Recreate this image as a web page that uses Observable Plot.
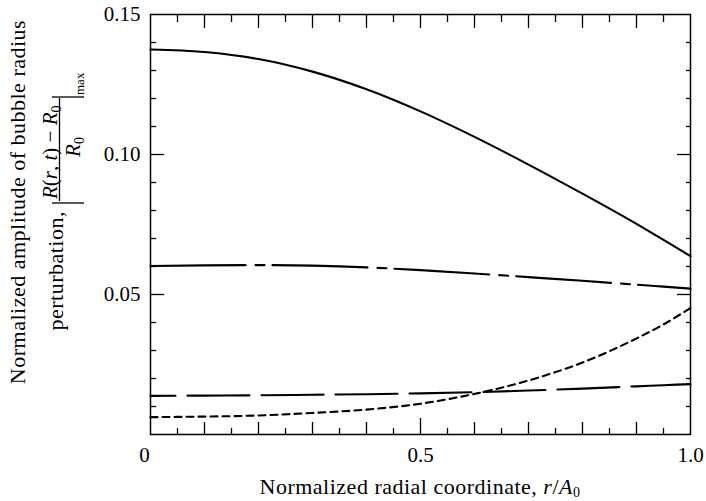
<!DOCTYPE html>
<html>
<head>
<meta charset="utf-8">
<script src="https://cdn.jsdelivr.net/npm/d3@7"></script>
<script src="https://cdn.jsdelivr.net/npm/@observablehq/plot@0.6"></script>
<style>
  body { margin: 0; background: #fff; }
  svg { display: block; }
</style>
</head>
<body>
<div id="chart"></div>
<script>
// ---- data ----
const radius = [0, 0.1, 0.2, 0.3, 0.4, 0.5, 0.6, 0.7, 0.8, 0.9, 0.95, 1.0];
const solidSeries    = [0.1375, 0.1366, 0.1341, 0.1296, 0.1233, 0.1154, 0.1063, 0.0964, 0.0860, 0.0752, 0.0695, 0.0637];
const dashDotSeries  = [0.0602, 0.0604, 0.0605, 0.0603, 0.0597, 0.0587, 0.0575, 0.0562, 0.0549, 0.0535, 0.0528, 0.0521];
const dottedSeries   = [0.0062, 0.0064, 0.0068, 0.0077, 0.0089, 0.0110, 0.0145, 0.0193, 0.0257, 0.0343, 0.0393, 0.0452];
const longDashSeries = [0.0138, 0.0139, 0.0140, 0.0142, 0.0144, 0.0147, 0.0151, 0.0157, 0.0164, 0.0172, 0.0176, 0.0180];

const xTickLabels = [0, 0.5, 1.0];
const xMajorTicks = [0.1, 0.2, 0.3, 0.4, 0.6, 0.7, 0.8, 0.9];
const xMinorTicks = [0.05, 0.15, 0.25, 0.35, 0.45, 0.55, 0.65, 0.75, 0.85, 0.95];
const yTickLabels = [0.05, 0.10, 0.15];
const yMajorTicks = [0.05, 0.10];
const yMinorTicks = [0.01, 0.02, 0.03, 0.04, 0.06, 0.07, 0.08, 0.09, 0.11, 0.12, 0.13, 0.14];

const series = [
  {values: solidSeries,    dash: null,              offset: 0},
  {values: dashDotSeries,  dash: "95,10,9,8",       offset: 0},
  {values: dottedSeries,   dash: "7,5",             offset: 0},
  {values: longDashSeries, dash: "62,12",           offset: 37}
];

const FONT = "'Liberation Serif', 'Times New Roman', serif";

const plot = Plot.plot({
  width: 706,
  height: 501,
  marginLeft: 150,
  marginRight: 16,
  marginTop: 14,
  marginBottom: 67,
  x: {domain: [0, 1], label: null},
  y: {domain: [0, 0.15], label: null},
  style: {fontFamily: FONT, fontSize: "21px", color: "#000", background: "#fff", overflow: "visible"},
  marks: [
    // inward ticks, bottom
    Plot.axisX(xMinorTicks, {anchor: "bottom", tickSize: -6, fill: "none", label: null, strokeWidth: 1.3}),
    Plot.axisX(xMajorTicks, {anchor: "bottom", tickSize: -12, fill: "none", label: null, strokeWidth: 1.3}),
    Plot.axisX([0.5], {anchor: "bottom", tickSize: -16, fill: "none", label: null, strokeWidth: 1.3}),
    // inward ticks, top
    Plot.axisX(xMinorTicks, {anchor: "top", tickSize: -7, fill: "none", label: null, strokeWidth: 1.3}),
    Plot.axisX(xMajorTicks.concat([0.5]), {anchor: "top", tickSize: -13, fill: "none", label: null, strokeWidth: 1.3}),
    // inward ticks, left / right
    Plot.axisY(yMinorTicks, {anchor: "left", tickSize: -6, fill: "none", label: null, strokeWidth: 1.3}),
    Plot.axisY(yMajorTicks, {anchor: "left", tickSize: -14, fill: "none", label: null, strokeWidth: 1.3}),
    Plot.axisY(yMinorTicks, {anchor: "right", tickSize: -5, fill: "none", label: null, strokeWidth: 1.3}),
    Plot.axisY(yMajorTicks, {anchor: "right", tickSize: -14, fill: "none", label: null, strokeWidth: 1.3}),
    // tick labels
    Plot.axisX(xTickLabels.filter(d => d === 0), {anchor: "bottom", tickSize: 0, tickPadding: 13, label: null,
      dx: -6, tickFormat: d => "0"}),
    Plot.axisX(xTickLabels.filter(d => d !== 0), {anchor: "bottom", tickSize: 0, tickPadding: 13, label: null,
      tickFormat: d => d.toFixed(1)}),
    Plot.axisY(yTickLabels, {anchor: "left", tickSize: 0, tickPadding: 10, label: null,
      tickFormat: d => d.toFixed(2)}),
    Plot.frame({stroke: "#000", strokeWidth: 1.5}),
    ...series.map(s => Plot.line(s.values, {
      x: radius, y: s.values, curve: "monotone-x",
      stroke: "#000", strokeWidth: 2.1,
      strokeDasharray: s.dash, strokeDashoffset: s.offset
    }))
  ]
});

document.getElementById("chart").appendChild(plot);

// ---- axis titles ----
const svg = d3.select(plot);
const g = svg.append("g").attr("font-family", FONT).attr("fill", "#000")
  .attr("font-size", 22).attr("letter-spacing", "0.5px");

// x-axis title
const xt = g.append("text").attr("x", 420).attr("y", 494).attr("text-anchor", "middle");
xt.append("tspan").text("Normalized radial coordinate, ");
xt.append("tspan").attr("font-style", "italic").text("r");
xt.append("tspan").text("/");
xt.append("tspan").attr("font-style", "italic").text("A");
xt.append("tspan").attr("font-size", 14).attr("dy", 3).text("0");

// y-axis title, line 1
g.append("text").attr("transform", "translate(25,202) rotate(-90)")
  .attr("text-anchor", "middle").text("Normalized amplitude of bubble radius");

// y-axis title, line 2
g.append("text").attr("transform", "translate(63,211) rotate(-90)")
  .attr("text-anchor", "end").text("perturbation,");

// numerator
const num = g.append("text").attr("transform", "translate(57,199) rotate(-90)")
  .attr("text-anchor", "start").attr("font-size", 21).attr("letter-spacing", "0px");
num.append("tspan").attr("font-style", "italic").text("R");
num.append("tspan").text("(");
num.append("tspan").attr("font-style", "italic").text("r");
num.append("tspan").text(", ");
num.append("tspan").attr("font-style", "italic").text("t");
num.append("tspan").text(") \u2212 ");
num.append("tspan").attr("font-style", "italic").text("R");
num.append("tspan").attr("font-size", 14).attr("dy", 4).text("0");

// denominator
const den = g.append("text").attr("transform", "translate(80,147) rotate(-90)")
  .attr("text-anchor", "middle").attr("font-size", 21).attr("letter-spacing", "0px");
den.append("tspan").attr("font-style", "italic").text("R");
den.append("tspan").attr("font-size", 14).attr("dy", 4).text("0");

// fraction bar and absolute-value bars
g.append("line").attr("x1", 59.5).attr("x2", 59.5).attr("y1", 98).attr("y2", 201)
  .attr("stroke", "#000").attr("stroke-width", 1.3);
g.append("line").attr("x1", 52).attr("x2", 84).attr("y1", 97).attr("y2", 97)
  .attr("stroke", "#000").attr("stroke-width", 1.3);
g.append("line").attr("x1", 52).attr("x2", 84).attr("y1", 203).attr("y2", 203)
  .attr("stroke", "#000").attr("stroke-width", 1.3);

// "max" subscript
g.append("text").attr("transform", "translate(84,95) rotate(-90)")
  .attr("text-anchor", "start").attr("font-size", 13).attr("letter-spacing", "0px").text("max");
</script>
</body>
</html>
